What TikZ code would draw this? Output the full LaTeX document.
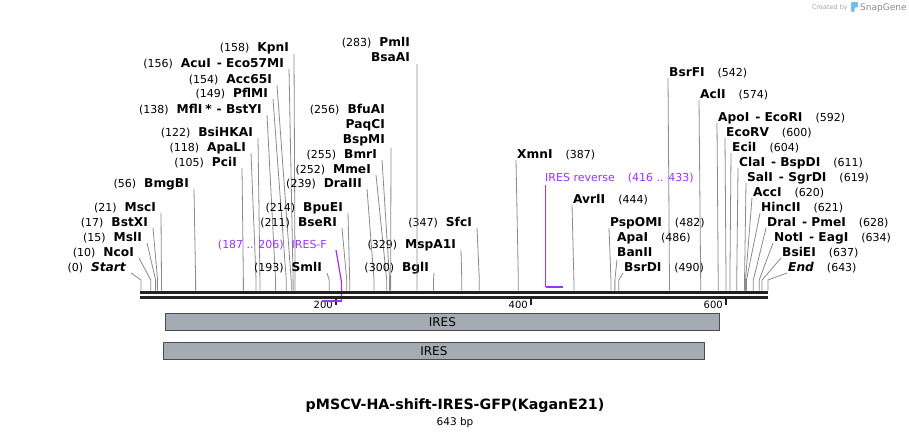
\documentclass[tikz,border=0pt]{standalone}
\usepackage{fontspec}
\setmainfont{DejaVu Sans}
\usetikzlibrary{positioning}
\definecolor{cutGray}{HTML}{8A8A8A}
\definecolor{primerSG}{HTML}{9933FF}
\definecolor{featSG}{HTML}{A5ABB2}
\definecolor{axisSG}{HTML}{222222}
\definecolor{logoSG}{HTML}{6EC1E4}
\newcommand\nm[1]{{\fontsize{12.2}{15}\selectfont\bfseries #1}}

\begin{document}
\begin{tikzpicture}[x=1pt,y=-1pt,
 lab/.style={inner sep=0pt,font=\fontsize{11}{15}\selectfont},
 cut/.style={draw=cutGray,line width=0.8pt},
 primer/.style={draw=primerSG,line width=1.2pt},
 primerbar/.style={draw=primerSG,line width=2.2pt},
 feat/.style={draw=black!70,fill=featSG,line width=0.8pt,minimum height=17pt,
 inner sep=0pt,anchor=north west,font=\fontsize{12}{13}\selectfont},
 axisline/.style={draw=axisSG,line width=3pt},
 tick/.style={draw=axisSG,line width=1.6pt}]
\useasboundingbox (0,0) rectangle (909,436);

% enzymes labelled on the left of their line
\foreach \bp/\xr/\yb/\name [count=\i] in {
 158/289/52/KpnI, 156/284/67/{AcuI\hspace{6pt}- Eco57MI}, 154/272/83/Acc65I,
 149/268/97/PflMI, 138/262/113/{MflI\hspace{3pt}*\hspace{5pt}- BstYI}, 122/253/136/BsiHKAI,
 118/246/151/ApaLI, 105/237/166/PciI, 56/189/187/BmgBI, 21/156/211/MscI,
 17/148/226/BstXI, 15/142/241/MslI, 10/134/256/NcoI, 0/126/271/{\itshape Start},
 239/362/187/DraIII, 252/371/173/MmeI, 255/377/158/BmrI, 214/343/211/BpuEI,
 211/337/226/BseRI, 193/322/271/SmlI, 300/429/271/BglI, 329/456/248/MspA1I,
 347/472/226/SfcI} {
 \node[lab,anchor=base east] (a\i) at (\xr,\yb) {(\bp)\hspace{8pt}\nm{\name}};
 \coordinate (ka\i) at ({141+0.975*\bp},280);
 \coordinate (ca\i) at ({141+0.975*\bp},290.5);
 \draw[cut] ([xshift=5pt,yshift=-2pt]a\i.base east) -- (ka\i) -- (ca\i);
}
\node[lab,anchor=north east,align=right] (a256) at (385,104.3)
 {(256)\hspace{8pt}\nm{BfuAI}\\\nm{PaqCI}\\\nm{BspMI}};
\coordinate (c256) at ({141+0.975*256},290.5);
\draw[cut] ([xshift=6pt,yshift=-1pt]a256.south east) -- (c256);
\node[lab,anchor=north east,align=right] (a283) at (410,37.3)
 {(283)\hspace{8pt}\nm{PmlI}\\\nm{BsaAI}};
\coordinate (c283) at ({141+0.975*283},290.5);
\draw[cut] ([xshift=7pt,yshift=-2pt]a283.south east) -- (c283);

% enzymes labelled on the right of their line
\foreach \bp/\xl/\yb/\name [count=\i] in {
 387/517/158/XmnI, 444/573/203/AvrII, 482/610/226/PspOMI, 490/624/271/BsrDI,
 542/669/76/BsrFI, 574/700/98/AclI, 592/718/121/{ApoI\hspace{6pt}- EcoRI},
 600/726/136/EcoRV, 604/732/151/EciI, 611/739/166/{ClaI\hspace{6pt}- BspDI},
 619/747/181/{SalI\hspace{6pt}- SgrDI}, 620/753/196/AccI, 621/761/211/HincII,
 628/767/226/{DraI\hspace{6pt}- PmeI}, 634/774/241/{NotI\hspace{6pt}- EagI},
 637/782/256/BsiEI, 643/788/271/{\itshape End}} {
 \node[lab,anchor=base west] (b\i) at (\xl,\yb) {\nm{\name}\hspace{13pt}(\bp)};
 \coordinate (kb\i) at ({141+0.975*\bp},280);
 \coordinate (cb\i) at ({141+0.975*\bp},290.5);
 \draw[cut] ([xshift=-1pt,yshift=-2pt]b\i.base west) -- (kb\i) -- (cb\i);
}
\node[lab,anchor=north west,align=left] (b486) at (617,232.3)
 {\nm{ApaI}\hspace{13pt}(486)\\\nm{BanII}};
\coordinate (k486) at ({141+0.975*486},280);
\coordinate (c486) at ({141+0.975*486},290.5);
\draw[cut] ([yshift=-3pt]b486.south west) -- (k486) -- (c486);

% primers
\node[lab,anchor=base east,text=primerSG] (pF) at (327,248)
 {(187 .. 206)\hspace{8pt}IRES-F};
\coordinate (pFk) at (341.5,282);
\coordinate (pFb) at (341.5,301);
\coordinate (pFa) at (322,301);
\draw[primer] ([xshift=9pt,yshift=-2pt]pF.base east) -- (pFk) -- (pFb);
\node[lab,anchor=base west,text=primerSG] (pR) at (545,181)
 {IRES reverse\hspace{13pt}(416 .. 433)};
\coordinate (pRb) at (545.5,287);
\coordinate (pRe) at (563,287);
\draw[primer] ([xshift=0.5pt,yshift=-4pt]pR.base west) -- (pRb);

% sequence axis and ruler
\coordinate (seqL) at (140,0);
\coordinate (seqR) at (768,0);
\draw[axisline] (seqL |- 0,292) -- (seqR |- 0,292);
\draw[axisline] (seqL |- 0,297) -- (seqR |- 0,297);
\foreach \t in {200,400,600} {
 \coordinate (t\t) at ({141+0.975*\t},298.5);
 \draw[tick] (t\t) -- ++(0,6);
 \node[lab,anchor=base east,font=\fontsize{10}{12}\selectfont] (tl\t) at ([xshift=-3pt]t\t |- 0,308) {\t};
}
\draw[primerbar] (pFa) -- (pFb);
\draw[primerbar] (pRb) -- (pRe);

% features
\node[feat,minimum width=554pt] (ires1) at (165,313) {IRES};
\node[feat,minimum width=541pt] (ires2) at (163,342) {IRES};

% title
\node[inner sep=0pt,font=\fontsize{14.2}{16}\selectfont\bfseries] (title) at (455,406)
 {pMSCV-HA-shift-IRES-GFP(KaganE21)};
\node[inner sep=0pt,font=\fontsize{10.5}{12}\selectfont,below=4pt of title] (len) {643 bp};

% credit
\node[inner sep=0pt,anchor=base east,text=black!35,font=\fontsize{6.5}{7}\selectfont] (credA) at (848,10) {Created by};
\fill[logoSG,rounded corners=1pt] (851,2) -- (858,2) -- (858,7.5) -- (854.5,7.5) -- (854.5,12) -- (851,12) -- cycle;
\node[inner sep=0pt,anchor=base west,text=black!45,font=\fontsize{9}{10}\selectfont] (credB) at (860,10.5) {SnapGene};
\end{tikzpicture}
\end{document}
